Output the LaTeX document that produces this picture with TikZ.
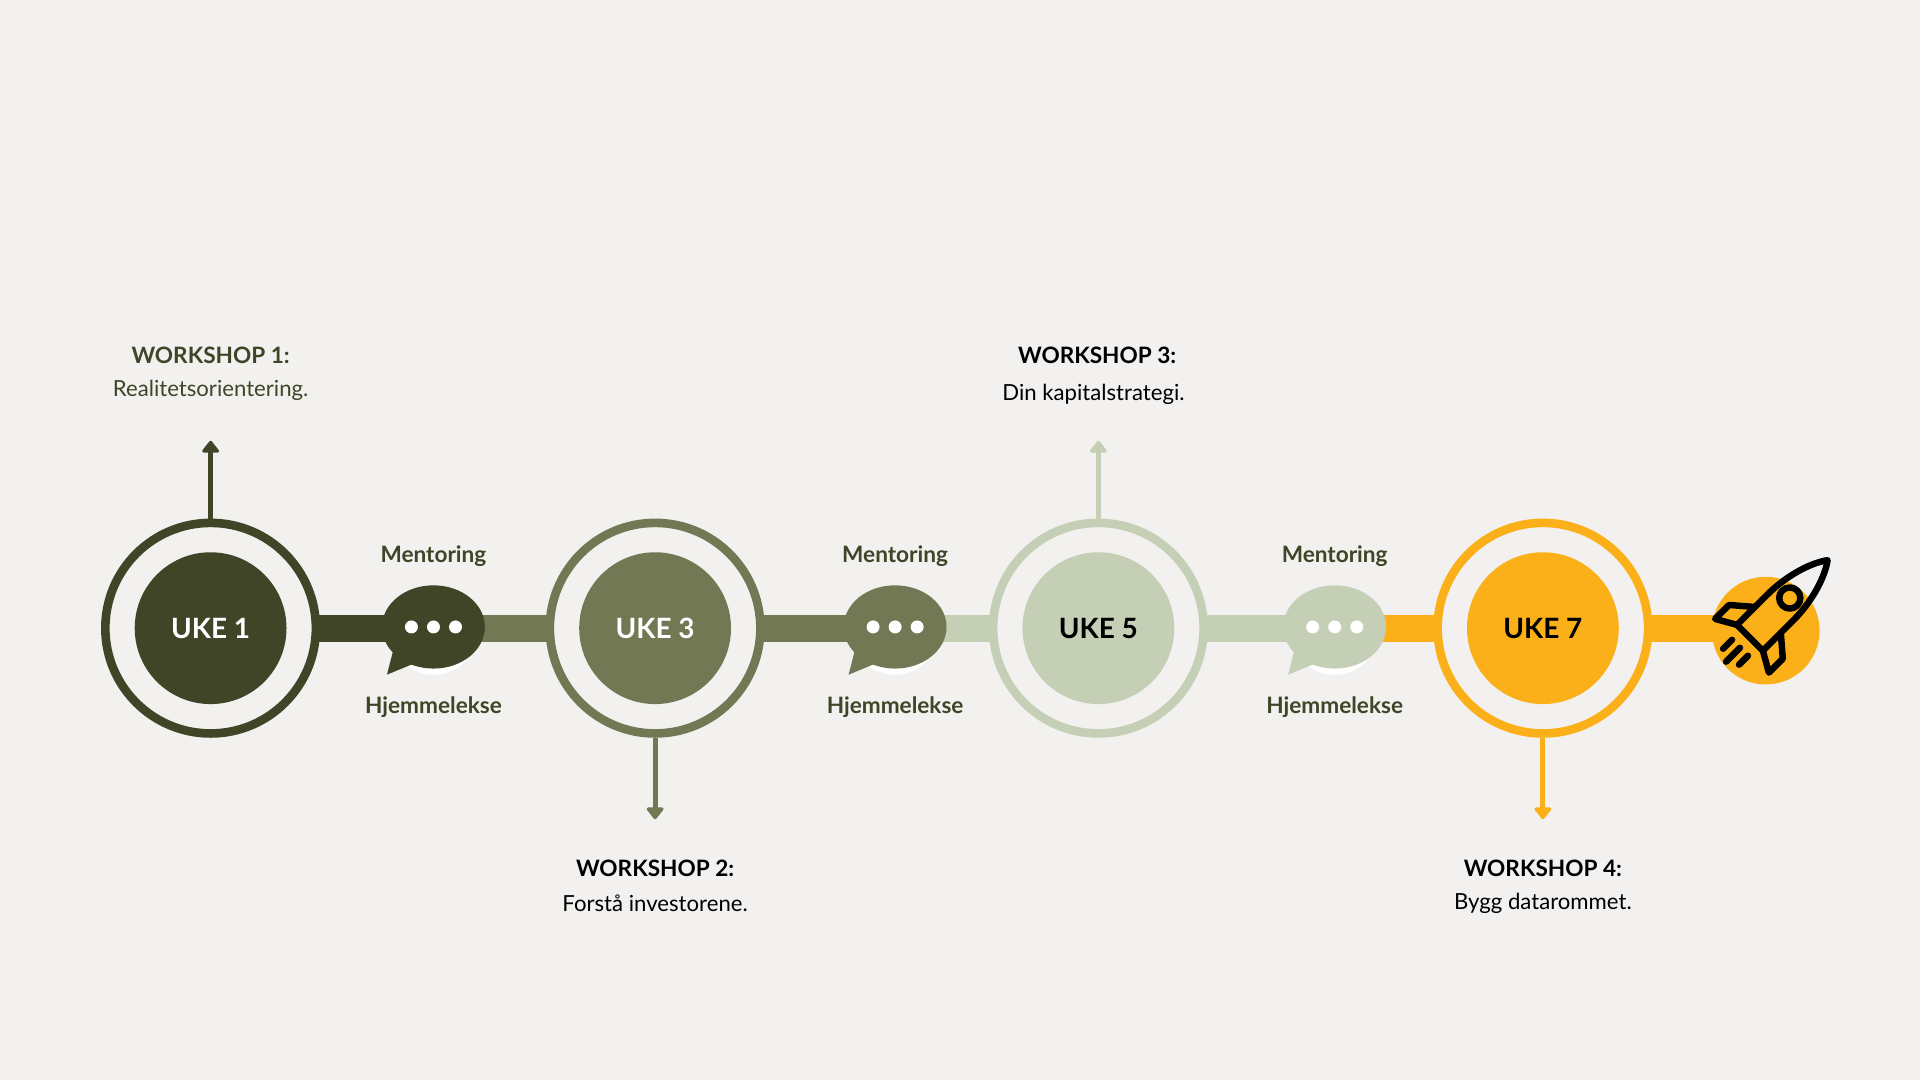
\documentclass[tikz,border=0pt]{standalone}
\usepackage{fontspec}
\setmainfont{Lato}
\usetikzlibrary{arrows.meta, positioning, shapes.geometric}
\definecolor{bg}{HTML}{F2F1EF}
\definecolor{dark}{HTML}{3F4526}
\definecolor{mid}{HTML}{717853}
\definecolor{light}{HTML}{C4CFB5}
\definecolor{gold}{HTML}{FBB01A}
\tikzset{
  ring/.style={circle, draw=#1, fill=bg, line width=4pt, minimum size=3.44cm, inner sep=0pt},
  disc/.style={circle, fill=#1, minimum size=2.48cm, inner sep=0pt, font=\bfseries\fontsize{13}{15}\selectfont},
  bar/.style={line width=12.5pt, draw=#1},
  bubble/.style={ellipse, fill=#1, minimum width=1.68cm, minimum height=1.36cm, inner sep=0pt},
  small/.style={font=\bfseries\fontsize{10.5}{12}\selectfont, text=dark},
  head/.style={font=\bfseries\fontsize{10.5}{12}\selectfont},
  body/.style={font=\fontsize{10.3}{12}\selectfont},
  tick/.style={line width=2.4pt, draw=#1, -{Triangle[width=9pt, length=6pt, round]}}
}
\begin{document}
\begin{tikzpicture}[x=0.02cm, y=-0.02cm]
  \fill[bg] (0,0) rectangle (1568,882);
  \useasboundingbox (0,0) rectangle (1568,882);

  % bar
  \draw[bar=dark] (172,513) -- (354,513);
  \draw[bar=mid] (354,513) -- (731,513);
  \draw[bar=light] (731,513) -- (1090,513);
  \draw[bar=gold] (1090,513) -- (1442,513);

  % weeks
  \node[ring=dark] (r1) at (172,513) {};
  \node[disc=dark, text=white] (u1) at (r1) {UKE 1};
  \node[ring=mid] (r3) at (535,513) {};
  \node[disc=mid, text=white] (u3) at (r3) {UKE 3};
  \node[ring=light] (r5) at (897,513) {};
  \node[disc=light, text=black] (u5) at (r5) {UKE 5};
  \node[ring=gold] (r7) at (1260,513) {};
  \node[disc=gold, text=black] (u7) at (r7) {UKE 7};

  % bubbles
  \foreach \x/\c/\n in {354/dark/1, 731/mid/2, 1090/light/3} {
    \fill[white] (\x,520) ellipse [x radius=34, y radius=31];
    \fill[\c] (\x-30,520) -- (\x-38,551) -- (\x-9,539) -- cycle;
    \node[bubble=\c] (b\n) at (\x,512) {};
    \foreach \d in {-18,0,18}
      \fill[white] (\x+\d,512) circle (5.3);
    \node[small, above=5pt of b\n] (m\n) {Mentoring};
    \node[small, below=9.5pt of b\n] (h\n) {Hjemmelekse};
  }

  % workshops
  \node[head, text=dark] (w1) at (172,290) {WORKSHOP 1:};
  \node[body, text=dark] (t1) at (172,319) {Realitetsorientering.};
  \node[head] (w2) at (535,709) {WORKSHOP 2:};
  \node[body] (t2) at (535,738) {Forstå investorene.};
  \node[head] (w3) at (896,290) {WORKSHOP 3:};
  \node[body] (t3) at (893,322) {Din kapitalstrategi.};
  \node[head] (w4) at (1260,709) {WORKSHOP 4:};
  \node[body] (t4) at (1260,738) {Bygg datarommet.};

  \coordinate (a1) at (172,360);
  \coordinate (a3) at (535,669);
  \coordinate (a5) at (897,360);
  \coordinate (a7) at (1260,669);
  \draw[tick=dark] (r1.north) -- (a1);
  \draw[tick=mid] (r3.south) -- (a3);
  \draw[tick=light] (r5.north) -- (a5);
  \draw[tick=gold] (r7.south) -- (a7);

  % rocket
  \node[circle, fill=gold, minimum size=1.76cm, inner sep=0pt] (goal) at (1442,515) {};
  \begin{scope}[shift={(1447,503)}, x=0.023cm, y=0.023cm, rotate=45,
      line width=3pt, line join=round, line cap=round]
    \draw (-22,-13) -- (8,-13) .. controls (30,-13) and (48,-6) .. (56,0)
      .. controls (48,6) and (30,13) .. (8,13) -- (-22,13) -- cycle;
    \draw (18,0) circle (7.5);
    \draw (-4,13) -- (-16,27) -- (-30,27) -- (-22,13);
    \draw (-4,-13) -- (-16,-27) -- (-30,-27) -- (-22,-13);
    \draw (-32,0) -- (-46,0);
    \draw (-32,8) -- (-41,8);
    \draw (-32,-8) -- (-41,-8);
  \end{scope}
\end{tikzpicture}
\end{document}
